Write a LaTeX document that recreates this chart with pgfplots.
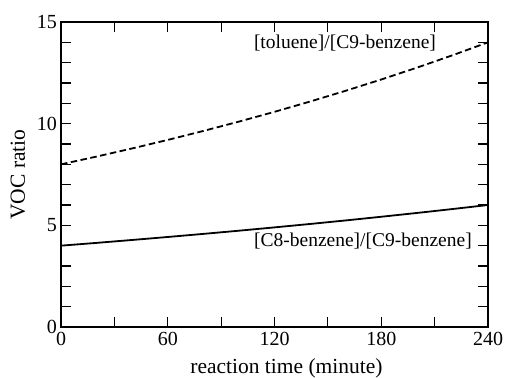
\documentclass[border=0pt]{standalone}
\usepackage{fontspec}
\setmainfont{Liberation Serif}
\usepackage{pgfplots}
\pgfplotsset{compat=1.18}
\usepackage{pgfplotstable}
\pgfplotstableread{
t tol
0 8.000
20 8.382
40 8.782
60 9.201
80 9.641
100 10.101
120 10.583
140 11.088
160 11.618
180 12.172
200 12.753
220 13.362
240 14.000
}\toluene
\pgfplotstableread{
t c8
0 4.000
20 4.137
40 4.280
60 4.427
80 4.579
100 4.736
120 4.899
140 5.067
160 5.241
180 5.422
200 5.608
220 5.801
240 6.000
}\ceight
\begin{document}
\begin{tikzpicture}
\begin{axis}[
  at={(0,0)}, anchor=south west,
  scale only axis, width=427bp, height=305bp,
  xmin=0, xmax=240, ymin=0, ymax=15,
  xtick={0,60,120,180,240}, minor x tick num=1,
  ytick={0,5,10,15}, minor y tick num=4,
  tick align=inside,
  major tick length=10bp, minor tick length=10bp,
  every tick/.style={black, line width=1.2bp},
  every minor tick/.style={black, line width=1.2bp},
  axis line style={line width=1.2bp},
  /pgf/number format/assume math mode=true,
  tick label style={font=\fontsize{20bp}{24bp}\selectfont},
  xticklabel style={inner sep=1bp, yshift=-4bp},
  yticklabel style={inner sep=1bp, xshift=-3bp},
  xlabel={reaction time (minute)},
  ylabel={VOC ratio},
  xlabel style={at={(axis description cs:0.528,-0.151)}, anchor=base, font=\fontsize{21.5bp}{25bp}\selectfont},
  ylabel style={at={(axis description cs:-0.101,0.5)}, anchor=center, font=\fontsize{21.5bp}{25bp}\selectfont},
]
\addplot[black, line width=1.8bp, dash pattern=on 6.5bp off 3.5bp] table[x=t, y=tol] {\toluene};
\addplot[black, line width=1.8bp] table[x=t, y=c8] {\ceight};
\node[font=\fontsize{19.5bp}{23bp}\selectfont] at (axis cs:159.6,13.95) {[toluene]/[C9-benzene]};
\node[font=\fontsize{19.5bp}{23bp}\selectfont] at (axis cs:169.7,4.21) {[C8-benzene]/[C9-benzene]};
\end{axis}
\pgfresetboundingbox
\path[use as bounding box] (-61bp,-51bp) rectangle (444bp,327bp);
\end{tikzpicture}
\end{document}
